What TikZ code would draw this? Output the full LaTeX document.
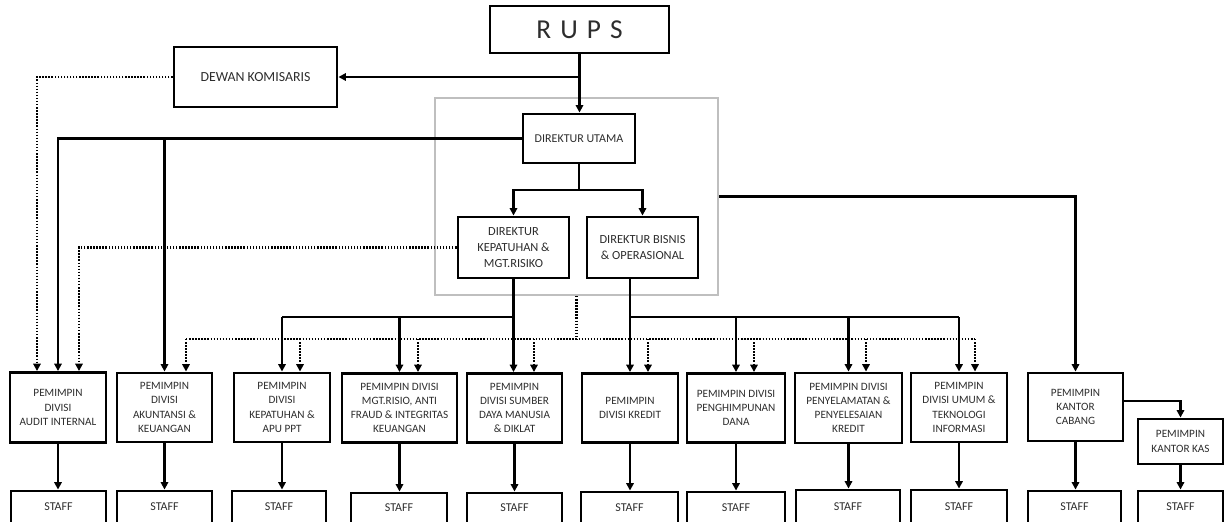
\documentclass[tikz,border=0pt]{standalone}
\usepackage{fontspec}
\setmainfont{Carlito}
\usetikzlibrary{arrows.meta}
\definecolor{txt}{RGB}{45,45,45}
\begin{document}
\begin{tikzpicture}[x=0.75pt,y=-0.75pt,
  box/.style={draw, line width=2.2pt, align=center, inner sep=1pt, text=txt, font=\fontsize{8.4}{10.6}\selectfont},
  sz/.style 2 args={minimum width=#1*0.75pt, minimum height=#2*0.75pt},
  dir/.style={box, font=\fontsize{9.3}{11.8}\selectfont},
  staffbox/.style={box, font=\fontsize{9}{11}\selectfont},
  grp/.style={draw=black!25, line width=1.5pt, inner sep=0pt},
  link/.style={line width=1.8pt},
  con/.style={line width=1.8pt, -{Triangle[length=5.5pt,width=5.5pt]}},
  dotline/.style={line width=1.8pt, dash pattern=on 1.1pt off 1.2pt},
  dotarrow/.style={dotline, -{Triangle[length=5.5pt,width=5.5pt]}}
]
\useasboundingbox (0,0) rectangle (1231,521);

% group frame
\node[grp, sz={283}{197}] (grp) at (576.5,196.5) {};

% top
\node[box, sz={179}{47}, font=\fontsize{20.5}{24}\selectfont] (rups) at (579.5,29.5) {R\,\,U\,\,P\,\,S};
\node[box, sz={163}{60}, font=\fontsize{10.4}{12}\selectfont] (dw) at (255.5,77) {DEWAN KOMISARIS};
\node[box, sz={112}{49}, font=\fontsize{9}{11}\selectfont] (du) at (579,138.5) {DIREKTUR UTAMA};
\node[dir, sz={111}{61}] (dk) at (513.5,247.5) {DIREKTUR\\KEPATUHAN \&\\MGT.RISIKO};
\node[dir, sz={111}{61}] (db) at (642.5,247.5) {DIREKTUR BISNIS\\\& OPERASIONAL};

% division heads
\node[box, sz={96}{70}] (a1) at (58,407.5) {PEMIMPIN\\DIVISI\\AUDIT INTERNAL};
\node[box, sz={95}{69}] (a2) at (164.5,407.5) {PEMIMPIN\\DIVISI\\AKUNTANSI \&\\KEUANGAN};
\node[box, sz={96}{69}] (a3) at (282,407.5) {PEMIMPIN\\DIVISI\\KEPATUHAN \&\\APU PPT};
\node[box, sz={115}{69}] (a4) at (399.5,408) {PEMIMPIN DIVISI\\MGT.RISIO, ANTI\\FRAUD \& INTEGRITAS\\KEUANGAN};
\node[box, sz={95}{69}] (a5) at (514.5,408) {PEMIMPIN\\DIVISI SUMBER\\DAYA MANUSIA\\\& DIKLAT};
\node[box, sz={96}{69}] (a6) at (630,408) {PEMIMPIN\\DIVISI KREDIT};
\node[box, sz={98}{69}] (a7) at (736,408) {PEMIMPIN DIVISI\\PENGHIMPUNAN\\DANA};
\node[box, sz={107}{70}] (a8) at (848.5,408) {PEMIMPIN DIVISI\\PENYELAMATAN \&\\PENYELESAIAN\\KREDIT};
\node[box, sz={96}{69}] (a9) at (959,407.5) {PEMIMPIN\\DIVISI UMUM \&\\TEKNOLOGI\\INFORMASI};
\node[box, sz={95}{68}] (a10) at (1075.5,407) {PEMIMPIN\\KANTOR\\CABANG};
\node[box, sz={85}{45}] (kas) at (1180.5,441.5) {PEMIMPIN\\KANTOR KAS};

% staff
\node[staffbox, sz={95}{32}] (s1) at (58.5,507) {STAFF};
\node[staffbox, sz={95}{32}] (s2) at (164.5,507) {STAFF};
\node[staffbox, sz={94}{32}] (s3) at (279,507) {STAFF};
\node[staffbox, sz={96}{30}] (s4) at (399,508) {STAFF};
\node[staffbox, sz={95}{30}] (s5) at (514.5,508) {STAFF};
\node[staffbox, sz={97}{31}] (s6) at (629.5,507.5) {STAFF};
\node[staffbox, sz={98}{31}] (s7) at (736,507.5) {STAFF};
\node[staffbox, sz={104}{33}] (s8) at (848,506.5) {STAFF};
\node[staffbox, sz={96}{33}] (s9) at (959,506.5) {STAFF};
\node[staffbox, sz={93}{32}] (s10) at (1074.5,507) {STAFF};
\node[staffbox, sz={85}{32}] (s11) at (1180.5,507) {STAFF};

% helper coordinates
\coordinate (j0) at (579.5,77);
\coordinate (dubus) at (0,190);
\coordinate (bus) at (0,317);
\coordinate (dbus) at (0,339);
\coordinate (l1) at (37,0);
\coordinate (l3) at (79,0);
\coordinate (cy) at (0,401);
\coordinate (p2) at (186,339);
\coordinate (p3) at (300,339);
\coordinate (p4) at (418,339);
\coordinate (p5) at (534,339);
\coordinate (p6) at (648,339);
\coordinate (p7) at (754,339);
\coordinate (p8) at (866,339);
\coordinate (p9) at (975,339);

% RUPS
\draw[con] (rups.south) -- (rups.south |- du.north);
\draw[con] (j0) -- (dw.east);

% Dewan dotted
\draw[dotarrow] (dw.west) -| (l1 |- a1.north);

% Direktur Utama
\draw[con] (du.west) -| (a1.north);
\draw[con] (a2.north |- du.west) -- (a2.north);
\draw[link] (du.south) -- (du.south |- dubus);
\draw[con] (du.south |- dubus) -| (dk.north);
\draw[con] (du.south |- dubus) -| (db.north);

% Kepatuhan dotted
\draw[dotarrow] (dk.west) -| (l3 |- a1.north);

% DK solid
\draw[con] (dk.south) -- (dk.south |- a5.north);
\draw[link] (dk.south |- bus) -- (a3.north |- bus);
\draw[con] (a3.north |- bus) -- (a3.north);
\draw[con] (a4.north |- bus) -- (a4.north);

% DB solid
\draw[con] (a6.north |- db.south) -- (a6.north);
\draw[link] (a6.north |- bus) -- (a9.north |- bus);
\draw[con] (a7.north |- bus) -- (a7.north);
\draw[con] (a8.north |- bus) -- (a8.north);
\draw[con] (a9.north |- bus) -- (a9.north);

% group dotted bus
\draw[dotline] (grp.south) -- (grp.south |- dbus);
\draw[dotline] (p2) -- (p9);
\draw[dotarrow] (p2) -- (p2 |- a2.north);
\draw[dotarrow] (p3) -- (p3 |- a3.north);
\draw[dotarrow] (p4) -- (p4 |- a4.north);
\draw[dotarrow] (p5) -- (p5 |- a5.north);
\draw[dotarrow] (p6) -- (p6 |- a6.north);
\draw[dotarrow] (p7) -- (p7 |- a7.north);
\draw[dotarrow] (p8) -- (p8 |- a8.north);
\draw[dotarrow] (p9) -- (p9 |- a9.north);

% branch office
\draw[con] (grp.east) -| (a10.north);
\draw[con] (a10.east |- cy) -| (kas.north);

% to staff
\draw[con] (a1.south) -- (a1.south |- s1.north);
\draw[con] (a2.south) -- (a2.south |- s2.north);
\draw[con] (a3.south) -- (a3.south |- s3.north);
\draw[con] (a4.south) -- (a4.south |- s4.north);
\draw[con] (a5.south) -- (a5.south |- s5.north);
\draw[con] (a6.south) -- (a6.south |- s6.north);
\draw[con] (a7.south) -- (a7.south |- s7.north);
\draw[con] (a8.south) -- (a8.south |- s8.north);
\draw[con] (a9.south) -- (a9.south |- s9.north);
\draw[con] (a10.south) -- (a10.south |- s10.north);
\draw[con] (kas.south) -- (kas.south |- s11.north);
\end{tikzpicture}
\end{document}
